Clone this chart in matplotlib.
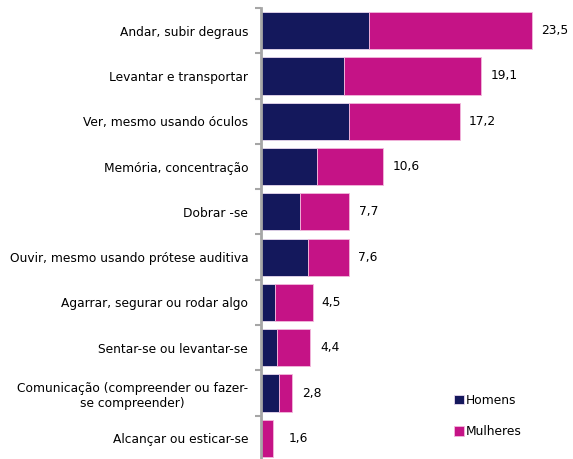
import matplotlib
matplotlib.use('Agg')
import matplotlib.pyplot as plt
import numpy as np

categories = [
    "Andar, subir degraus",
    "Levantar e transportar",
    "Ver, mesmo usando óculos",
    "Memória, concentração",
    "Dobrar -se",
    "Ouvir, mesmo usando prótese auditiva",
    "Agarrar, segurar ou rodar algo",
    "Sentar-se ou levantar-se",
    "Comunicação (compreender ou fazer-\nse compreender)",
    "Alcançar ou esticar-se",
]
homens   = [9.4, 7.2, 7.6, 4.9, 3.4, 4.1, 1.2, 1.4, 1.6, 0.0]
mulheres = [14.1, 11.9, 9.6, 5.7, 4.2, 3.5, 3.3, 2.9, 1.1, 1.1]
totais   = [23.5, 19.1, 17.2, 10.6, 7.7, 7.6, 4.5, 4.4, 2.8, 1.6]

NAVY = "#14185c"
MAGENTA = "#c51386"
FS = 8.8

fig = plt.figure(figsize=(5.73, 4.59), dpi=100)
ax = fig.add_axes([260.7 / 573, -2 / 459, 312.1 / 573, 453 / 459])

y = np.arange(len(categories))
ax.barh(y, homens, height=0.82, color=NAVY, edgecolor="#e8d8ee", linewidth=0.6, label="Homens")
ax.barh(y, mulheres, left=homens, height=0.82, color=MAGENTA, edgecolor="#f2b8dc",
        linewidth=0.6, label="Mulheres")

for i, t in enumerate(totais):
    ax.annotate(f"{t:.1f}".replace(".", ","), (t, i), xytext=(9, 0),
                textcoords="offset pixels", ha="left", va="center", fontsize=FS)

ax.set_xlim(0, 27)
ax.set_ylim(len(categories) - 0.5, -0.5)

ax.set_yticks(y)
ax.set_yticklabels(categories, fontsize=FS, multialignment="center")
ax.tick_params(axis="y", which="major", length=0, pad=9)
ax.set_yticks(np.arange(len(categories) + 1) - 0.5, minor=True)
ax.tick_params(axis="y", which="minor", length=4, width=1.5, color="#a6a6a6")
ax.set_xticks([])

for s in ["top", "right", "bottom"]:
    ax.spines[s].set_visible(False)
ax.spines["left"].set_color("#a6a6a6")
ax.spines["left"].set_linewidth(2)

ax.legend(loc="lower left", bbox_to_anchor=(188 / 312.1, 18 / 453), frameon=False,
          fontsize=FS, handlelength=0.85, handleheight=0.85, handletextpad=0.15,
          labelspacing=1.5, borderaxespad=0)

fig.savefig("out.png", dpi=100)
